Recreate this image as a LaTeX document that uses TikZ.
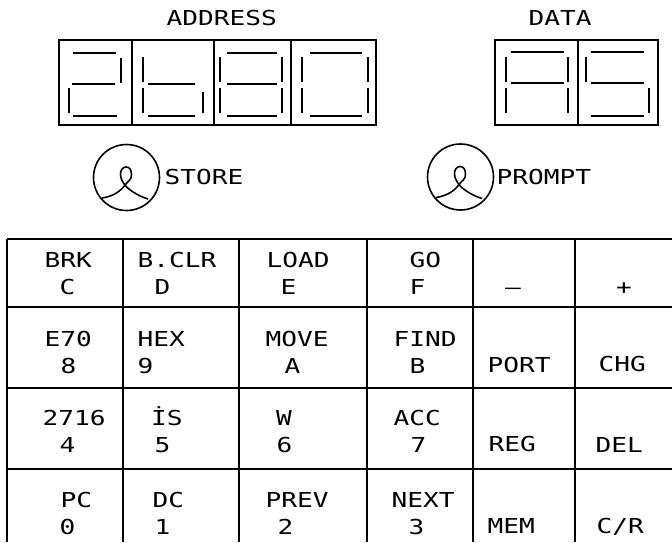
\documentclass[tikz,border=0pt]{standalone}
\usepackage{fontspec}
\newfontfamily\kfont[FakeStretch=1.27]{DejaVu Sans Mono}
\tikzset{
  lbl/.style={font=\kfont\fontsize{20.6}{24}\selectfont, inner sep=0pt, anchor=base west},
  clbl/.style={font=\kfont\fontsize{20.6}{24}\selectfont, inner sep=0pt, anchor=base},
  seg/.style={line width=1.8pt, line cap=butt},
  frame/.style={line width=1.8pt},
  gridline/.style={line width=2pt},
  knob/.style={circle, draw, line width=1.6pt, inner sep=0pt, minimum size=66pt},
  knobloop/.pic={
    \draw[line width=1.6pt] (-24.5,20.5) .. controls (-14,19) and (-6,14) .. (-1.5,7.5)
      .. controls (1,4) and (5.5,2) .. (5,-3)
      .. controls (4.8,-8) and (3,-10.5) .. (-0.5,-10.5)
      .. controls (-4,-10.5) and (-6.2,-7) .. (-6,-3)
      .. controls (-5.8,1) and (-4,4.5) .. (-1.5,7.5)
      .. controls (1,11) and (10,18) .. (21.5,21.5);
  }
}
% key label: name, x1, text1, x2, text2, baseline1
\newcommand\keylab[6]{%
  \node[lbl] (#1a) at (#2,#6) {#3};
  \node[lbl] (#1b) at (#4,#6+27) {#5};
}
\newcommand\hsg[3]{\draw[seg] (#1,#3) -- (#2,#3);}
\newcommand\vsg[3]{\draw[seg] (#1,#2) -- (#1,#3);}
\begin{document}
\begin{tikzpicture}[x=1pt,y=-1pt]
\useasboundingbox (0,0) rectangle (672,542);

% titles
\node[lbl] (addr) at (166.5,25) {ADDRESS};
\node[lbl] (data) at (528.5,25) {DATA};

% address display frame
\draw[frame] (59,40) rectangle (376,125);
\draw[frame] (132,40) -- (132,125);
\draw[frame] (214,40) -- (214,125);
\draw[frame] (291,40) -- (291,125);
% data display frame
\draw[frame] (495,40) rectangle (658,125);
\draw[frame] (578,40) -- (578,125);

% digit 1: "2"
\hsg{73}{116}{53} \vsg{121}{58}{83} \hsg{72}{115}{84} \vsg{69}{88}{113} \hsg{73}{117}{116}
% digit 2: "b"
\vsg{143}{57}{82} \hsg{148}{195}{84} \vsg{143}{88}{113} \hsg{148}{195}{116} \vsg{203}{92}{113}
% digit 3: "8"
\hsg{227}{277}{53} \vsg{220}{57}{82} \vsg{282}{57}{82} \hsg{227}{277}{84}
\vsg{220}{88}{113} \vsg{282}{88}{113} \hsg{227}{277}{116}
% digit 4: "0"
\hsg{310}{362}{53} \vsg{302}{57}{82} \vsg{368}{57}{82}
\vsg{302}{88}{113} \vsg{368}{88}{113} \hsg{310}{362}{116}
% data digit 1: "A"
\hsg{511}{564}{52} \vsg{506}{57}{82} \vsg{568}{57}{82} \hsg{511}{564}{83}
\vsg{506}{88}{113} \vsg{568}{88}{113}
% data digit 2: "5"
\hsg{591}{644}{52} \vsg{586}{57}{82} \hsg{591}{644}{83} \vsg{649}{88}{113} \hsg{591}{644}{116}

% knobs
\node[knob] (store) at (126.5,177.5) {};
\pic at (store.center) {knobloop};
\node[lbl] (storelbl) at (164.5,184) {STORE};
\node[knob] (prompt) at (460.5,177) {};
\pic at (prompt.center) {knobloop};
\node[lbl] (promptlbl) at (496.5,184) {PROMPT};

% keypad grid
\foreach \yy in {238.5,307,388,468.5} \draw[gridline] (7,\yy) -- (672,\yy);
\foreach \xx in {7,123,239,367,473,575} \draw[gridline] (\xx,238.5) -- (\xx,542);

% row 1
\keylab{brk}{44.5}{BRK}{59.5}{C}{267}
\keylab{bclr}{137.5}{B.CLR}{154.5}{D}{267}
\keylab{load}{266.5}{LOAD}{280.5}{E}{267}
\keylab{go}{409.5}{GO}{409.5}{F}{267}
\node[clbl] (minus) at (513,294) {–};
\node[clbl] (plus) at (624,294) {+};
% row 2
\keylab{eseventy}{44.5}{E70}{60.5}{8}{346}
\keylab{hex}{137.5}{HEX}{137.5}{9}{346}
\keylab{move}{265.5}{MOVE}{284.5}{A}{346}
\keylab{find}{393.5}{FIND}{409.5}{B}{346}
\node[lbl] (port) at (487.5,372) {PORT};
\node[lbl] (chg) at (598.5,371) {CHG};
% row 3
\keylab{twoseven}{42.5}{2716}{59.5}{4}{425}
\keylab{is}{151}{İS}{154.5}{5}{425}
\keylab{w}{276}{W}{276.5}{6}{425}
\keylab{acc}{393.5}{ACC}{410.5}{7}{425}
\node[lbl] (reg) at (488.5,451) {REG};
\node[lbl] (del) at (595.5,452) {DEL};
% row 4
\keylab{pc}{60.5}{PC}{59.5}{0}{507}
\keylab{dc}{152.5}{DC}{154.5}{1}{507}
\keylab{prev}{265.5}{PREV}{277.5}{2}{507}
\keylab{next}{391.5}{NEXT}{408.5}{3}{507}
\node[lbl] (mem) at (487.5,533) {MEM};
\node[lbl] (cr) at (596.5,533) {C/R};
\end{tikzpicture}
\end{document}
